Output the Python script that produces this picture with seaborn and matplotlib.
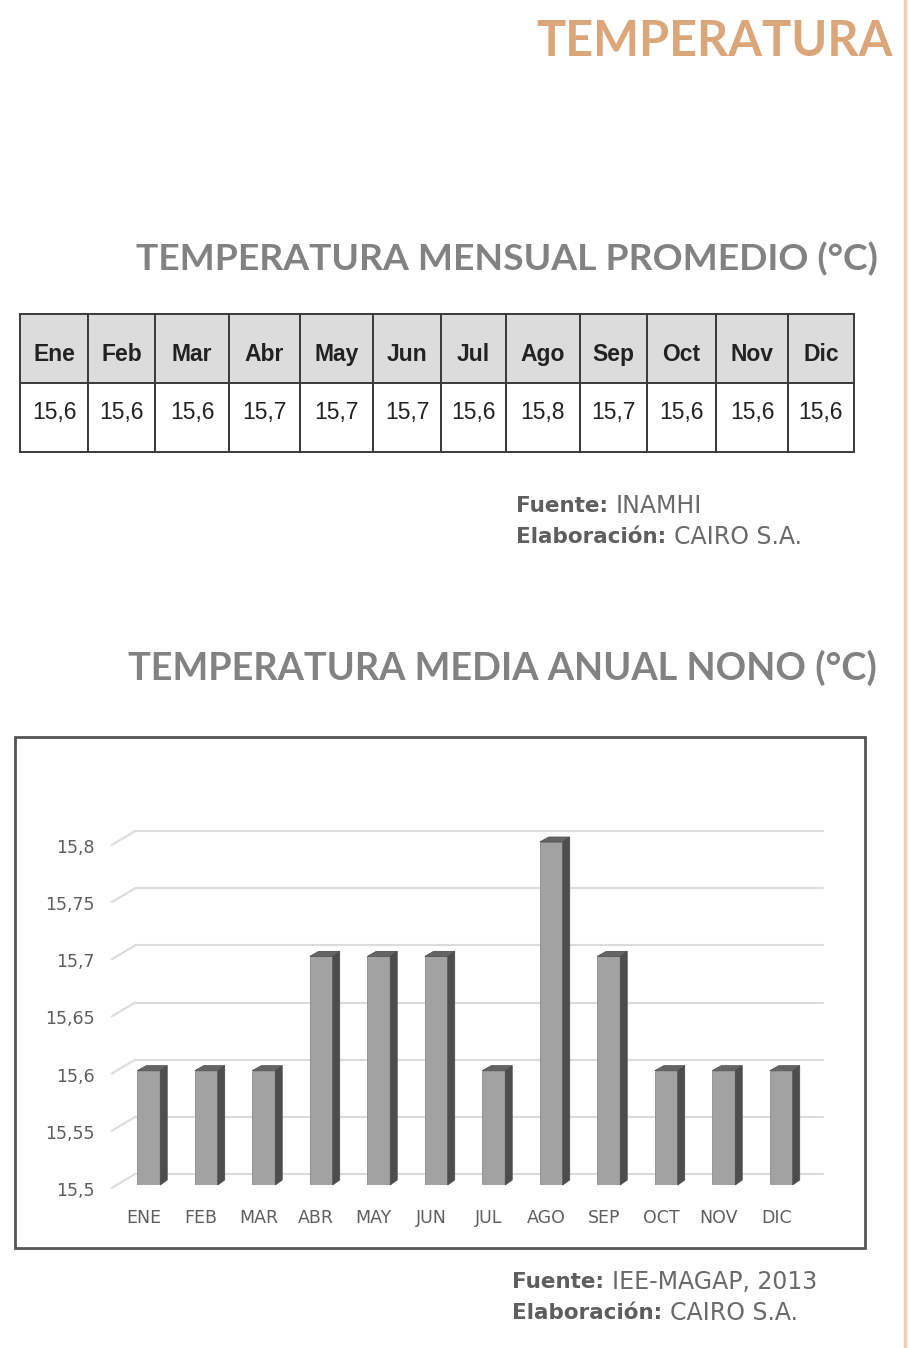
import matplotlib
matplotlib.use("Agg")
import matplotlib.pyplot as plt
import matplotlib.transforms as mtransforms
from matplotlib.patches import Polygon, Rectangle
from matplotlib.lines import Line2D
import seaborn as sns
import pandas as pd

### Data

meses_tabla = ['Ene', 'Feb', 'Mar', 'Abr', 'May', 'Jun', 'Jul', 'Ago', 'Sep', 'Oct', 'Nov', 'Dic']
meses_graf = ['ENE', 'FEB', 'MAR', 'ABR', 'MAY', 'JUN', 'JUL', 'AGO', 'SEP', 'OCT', 'NOV', 'DIC']
temperatura = [15.6, 15.6, 15.6, 15.7, 15.7, 15.7, 15.6, 15.8, 15.7, 15.6, 15.6, 15.6]
y_ticks = [15.5, 15.55, 15.6, 15.65, 15.7, 15.75, 15.8]

titulo = 'TEMPERATURA'
subtitulo_1 = 'TEMPERATURA MENSUAL PROMEDIO (°C)'
subtitulo_2 = 'TEMPERATURA MEDIA ANUAL NONO (°C)'
fuente_1 = [('Fuente:', 'INAMHI'), ('Elaboración:', 'CAIRO S.A.')]
fuente_2 = [('Fuente:', 'IEE-MAGAP, 2013'), ('Elaboración:', 'CAIRO S.A.')]

W, H = 910, 1348
ORANGE = '#DBA679'
GREY_TITLE = '#828282'
GREY_TEXT = '#5E5E5E'
GRID = '#DCDCDC'

sns.set_theme(style='white')
plt.rcParams['font.family'] = ['Lato', 'DejaVu Sans']

fig = plt.figure(figsize=(W / 100, H / 100), dpi=100)
fig.patch.set_facecolor('white')


def fx(px):
    return px / W


def fy(py):
    return 1 - py / H


# right decorative rule
fig.add_artist(Line2D([fx(905), fx(905)], [0, 1], color='#EECDB0', lw=2.5))

# headings
fig.text(fx(893), fy(42), titulo, ha='right', va='center', fontsize=35,
         fontweight='bold', color=ORANGE)
fig.text(fx(878), fy(259), subtitulo_1, ha='right', va='center', fontsize=26.8,
         fontweight='bold', color=GREY_TITLE)
fig.text(fx(877), fy(668), subtitulo_2, ha='right', va='center', fontsize=27.3,
         fontweight='bold', color=GREY_TITLE)

# monthly table
col_w = [68, 67, 74, 71, 73, 68, 65, 74, 67, 69, 72, 66]
tab_ax = fig.add_axes([fx(20), fy(452), fx(854) - fx(20), fy(314) - fy(452)])
tab_ax.axis('off')
valores_txt = [f'{v:.1f}'.replace('.', ',') for v in temperatura]
tabla = tab_ax.table(cellText=[meses_tabla, valores_txt], cellLoc='center',
                     colWidths=[w / sum(col_w) for w in col_w], bbox=[0, 0, 1, 1])
tabla.auto_set_font_size(False)
for (r, c), cell in tabla.get_celld().items():
    cell.set_edgecolor('#3A3A3A')
    cell.set_linewidth(1.4)
    txt = cell.get_text()
    txt.set_fontfamily(['Liberation Sans', 'DejaVu Sans'])
    txt.set_color('#222222')
    txt.set_fontsize(16.5)
    if r == 0:
        cell.set_facecolor('#DCDCDC')
        txt.set_fontweight('bold')
        txt.set_transform(mtransforms.Affine2D().translate(0, -6))
    else:
        cell.set_facecolor('white')
        txt.set_transform(mtransforms.Affine2D().translate(0, 5))

# chart frame
fig.add_artist(Rectangle((fx(15), fy(1248)), fx(865) - fx(15), fy(737) - fy(1248),
                         fill=False, edgecolor='#555555', lw=2))

# bar chart
ax = fig.add_axes([fx(120), fy(1185), fx(810) - fx(120), fy(842) - fy(1185)])
df = pd.DataFrame({'mes': meses_graf, 'temp': temperatura})
sns.barplot(data=df, x='mes', y='temp', color='#A2A2A2', saturation=1,
            width=0.4, edgecolor='#8A8A8A', linewidth=0.6, ax=ax, zorder=3)
ax.set_ylim(y_ticks[0], y_ticks[-1])
ax.set_xlim(-0.5, len(meses_graf) - 0.5)
ax.set_yticks(y_ticks)
ax.set_yticklabels([f'{t:g}'.replace('.', ',') for t in y_ticks])
ax.set_xlabel('')
ax.set_ylabel('')
for s in ax.spines.values():
    s.set_visible(False)
ax.grid(False)
narrow = ['Liberation Sans Narrow', 'DejaVu Sans']
ax.tick_params(axis='y', length=0, pad=18, labelsize=12.5, labelcolor=GREY_TEXT)
ax.tick_params(axis='x', length=0, pad=17, labelsize=12.5, labelcolor=GREY_TEXT)
for lab in ax.get_yticklabels():
    lab.set_fontfamily(narrow)
    lab.set_transform(lab.get_transform() + mtransforms.Affine2D().translate(0, -4))
for lab in ax.get_xticklabels():
    lab.set_fontfamily(narrow)
    lab.set_transform(lab.get_transform() + mtransforms.Affine2D().translate(-5, 0))

# back wall gridlines with perspective stubs
front = ax.get_yaxis_transform()
back = mtransforms.offset_copy(front, fig=fig, x=0, y=11, units='dots')
for t in y_ticks:
    ax.plot([0.022, 1.019], [t, t], transform=back, color=GRID, lw=1.5,
            clip_on=False, zorder=1)
    p0 = front.transform((-0.012, t)) + [0, -3]
    p1 = back.transform((0.022, t))
    fig.add_artist(Line2D([fx(p0[0]), fx(p1[0])], [p0[1] / H, p1[1] / H],
                          color=GRID, lw=1.5))

# 3D side and top faces derived from the bars
fig.canvas.draw()
dx, dy = 7, 5
for p in ax.patches:
    x0, y0 = p.get_x(), max(p.get_y(), y_ticks[0])
    x1, y1 = x0 + p.get_width(), p.get_y() + p.get_height()
    a = ax.transData.transform((x1, y0))
    b = ax.transData.transform((x1, y1))
    c = ax.transData.transform((x0, y1))
    side = [a, b, b + [dx, dy], a + [dx, dy]]
    top = [c, b, b + [dx, dy], c + [dx + 2, dy]]
    for poly, col in ((side, '#4D4D4D'), (top, '#656565')):
        fig.add_artist(Polygon([(q[0] / W, q[1] / H) for q in poly], closed=True,
                               facecolor=col, edgecolor='#4A4A4A', lw=0.5,
                               transform=fig.transFigure, zorder=4))

# source notes: bold label followed by regular text
renderer = fig.canvas.get_renderer()
nota_font = ['DejaVu Sans']


def nota(lines, x_px, y_px, step):
    for i, (bold, normal) in enumerate(lines):
        y = fy(y_px + i * step)
        t = fig.text(fx(x_px), y, bold + ' ', ha='left', va='center', fontsize=15.5,
                     fontweight='bold', color=GREY_TEXT, family=nota_font)
        bb = t.get_window_extent(renderer)
        fig.text(bb.x1 / W, y, normal, ha='left', va='center', fontsize=17,
                 color='#6A6A6A', family=nota_font)


nota(fuente_1, 516, 506, 31)
nota(fuente_2, 512, 1282, 31)

fig.savefig('out.png', dpi=100, facecolor='white')
